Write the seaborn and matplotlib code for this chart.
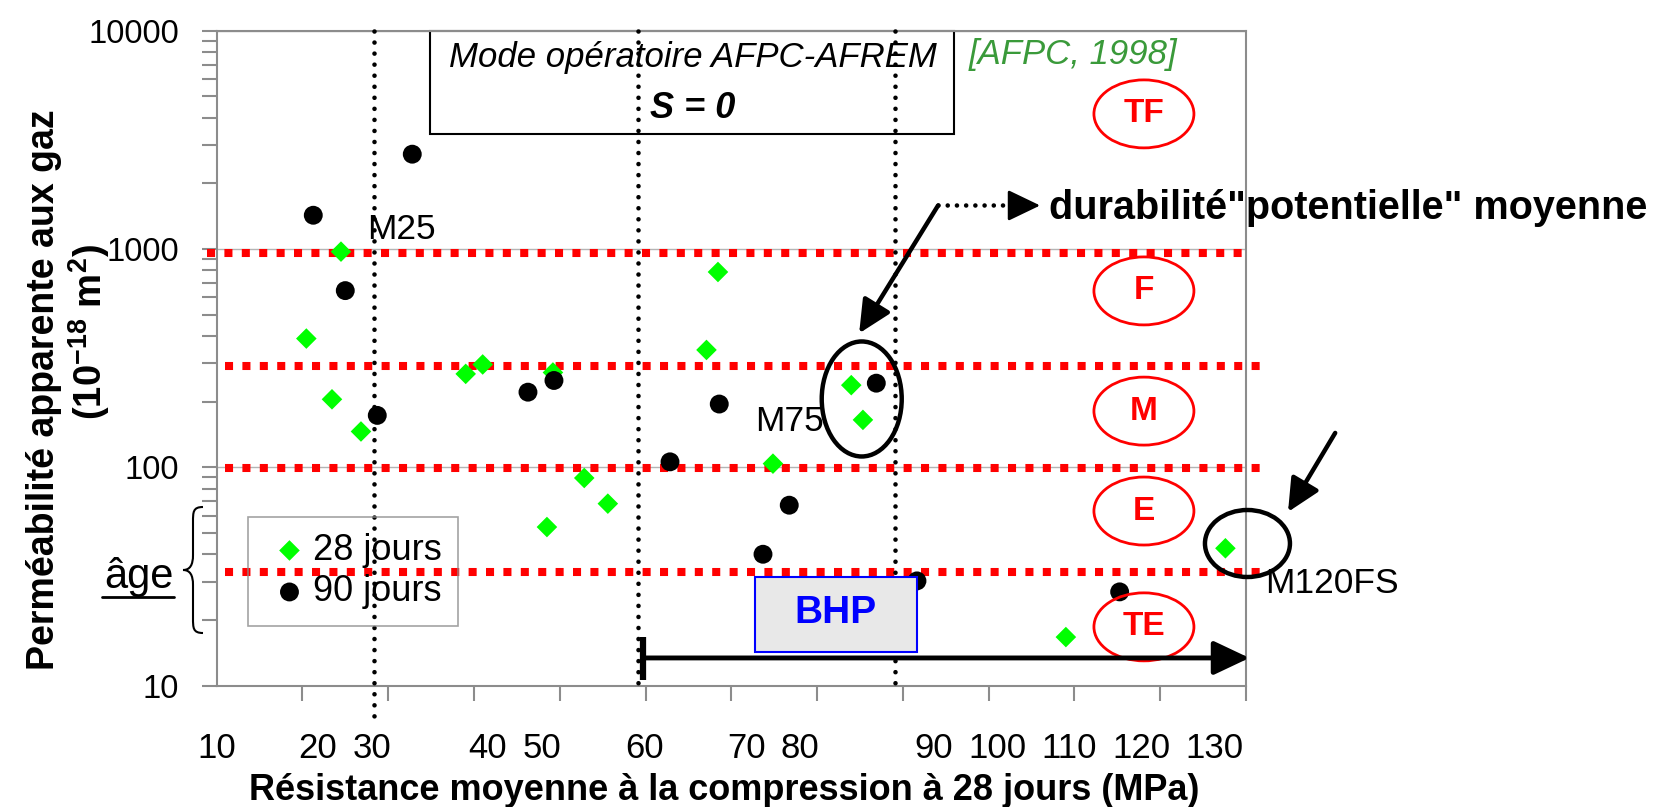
import numpy as np
import pandas as pd
import matplotlib
matplotlib.use('Agg')
import matplotlib.pyplot as plt
import seaborn as sns
from matplotlib.patches import Ellipse, Rectangle, PathPatch
from matplotlib.path import Path
from matplotlib.lines import Line2D
from matplotlib.ticker import NullFormatter
from matplotlib.transforms import ScaledTranslation

# values
fc_28j = [20.45, 24.49, 23.44, 26.82, 39.03, 41.01, 49.2, 48.5, 52.85, 55.6,
          67.1, 68.44, 74.85, 83.98, 85.34, 109.0, 127.6]
perm_28j = [389, 973, 205, 146, 268, 296, 272, 53.3, 89.4, 68.2,
            345, 785, 104, 238, 165, 16.7, 42.6]
fc_90j = [21.26, 24.99, 28.72, 32.8, 46.29, 49.32, 62.85, 68.59, 73.69, 76.75,
          86.9, 91.64, 115.27]
perm_90j = [1428, 645, 173, 2719, 221, 250, 106, 195, 40, 67.1,
            243, 30.2, 26.9]

# durability class limits and names
class_limits = [960, 291, 99, 33.1]
class_names = ['TF', 'F', 'M', 'E', 'TE']
class_centers = [4159, 643, 181, 63.1, 18.6]

# strength classes (vertical dotted lines)
strength_limits = [28.3, 59.1, 89.1]
strength_bottoms = [7.26, 9.55, 10]

x_labels = ['10', '20', '30', '40', '50', '60', '70', '80', '90', '100', '110', '120', '130']
x_label_pos = [10.0, 21.8, 28.1, 41.6, 47.9, 59.9, 71.8, 78.0, 93.6, 101.0, 109.4, 117.8, 126.3]

sns.set_theme(style='ticks')
plt.rcParams['font.family'] = ['Liberation Sans', 'DejaVu Sans']
plt.rcParams['text.color'] = 'black'
plt.rcParams['axes.labelcolor'] = 'black'
plt.rcParams['mathtext.fontset'] = 'custom'
plt.rcParams['mathtext.rm'] = 'Liberation Sans:bold'
plt.rcParams['mathtext.bf'] = 'Liberation Sans:bold'

W, H = 1653, 807
fig = plt.figure(figsize=(W / 100, H / 100), dpi=100)
ax = fig.add_axes([216.7 / W, 1 - 685.7 / H, (1246 - 216.7) / W, (685.7 - 30.7) / H])

grey = '#8c8c8c'

# scatter points
df28 = pd.DataFrame({'fc': fc_28j, 'perm': perm_28j})
df90 = pd.DataFrame({'fc': fc_90j, 'perm': perm_90j})
sns.scatterplot(data=df28, x='fc', y='perm', marker='D', color='#00ff00', s=110,
                edgecolor='none', label='28 jours', ax=ax, zorder=4)
sns.scatterplot(data=df90, x='fc', y='perm', marker='o', color='black', s=185,
                edgecolor='none', label='90 jours', ax=ax, zorder=4)

ax.set_yscale('log')
ax.set_xlim(10, 130)
ax.set_ylim(10, 10000)
ax.set_xlabel('')
ax.set_ylabel('')

# red class limits
for i, lim in enumerate(class_limits):
    x0, x1 = (8.9, 129.8) if i == 0 else (11, 131.7)
    ax.plot([x0, x1], [lim, lim], color='#ff0000', lw=5.8, dashes=(1, 1.16),
            dash_capstyle='butt', clip_on=False, zorder=2)

# vertical strength class lines
for xv, yb in zip(strength_limits, strength_bottoms):
    ax.plot([xv, xv], [10000, yb], color='black', lw=3.3, dashes=(0.01, 2.4),
            dash_capstyle='round', clip_on=False, zorder=3)

# ticks
ax.set_xticks(np.arange(10, 131, 10), minor=True)
ax.set_xticks(x_label_pos, labels=x_labels)
ax.tick_params(axis='x', which='major', length=0, pad=33, labelsize=25, labelcolor='black')
ax.tick_params(axis='x', which='minor', length=11, width=1.5, color=grey, direction='out')
ax.set_yticks([10, 100, 1000, 10000], labels=['10', '100', '1000', '10000'])
ax.yaxis.set_minor_formatter(NullFormatter())
ax.tick_params(axis='y', which='both', length=11, width=1.5, color=grey, direction='out',
               pad=16, labelsize=23.5, labelcolor='black')
ax.yaxis.grid(True, which='major', color='#b4b4b4', lw=1)
ax.set_axisbelow(True)
for s in ax.spines.values():
    s.set_color(grey)
    s.set_linewidth(1.5)


def oval(x, y, w, h, color, lw):
    e = Ellipse((0, 0), w, h, fill=False, edgecolor=color, lw=lw, clip_on=False, zorder=5,
                transform=fig.dpi_scale_trans + ScaledTranslation(x, y, ax.transData))
    ax.add_artist(e)


for name, yc in zip(class_names, class_centers):
    oval(118.1, yc, 1.0, 0.68, '#ff0000', 2)
    ax.text(118.1, yc, name, color='#ff0000', fontsize=24, fontweight='bold',
            ha='center', va='center', zorder=7)

# highlighted groups
oval(85.2, 205.7, 0.80, 1.15, 'black', 3.2)
oval(130.17, 44.8, 0.85, 0.67, 'black', 3.2)
ax.text(27.5, 1223, 'M25', fontsize=25.5, ha='left', va='center', zorder=7)
ax.text(72.76, 162, 'M75', fontsize=25.5, ha='left', va='center', zorder=7)
ax.text(132.2, 29.5, 'M120FS', fontsize=25.5, ha='left', va='center', zorder=7)

head = '-|>,head_length=0.5,head_width=0.24'
ax.annotate('', xy=(84.9, 411), xytext=(94.1, 1583), annotation_clip=False,
            arrowprops=dict(arrowstyle=head, color='black', lw=3.2, shrinkA=0, shrinkB=0,
                            mutation_scale=40))
ax.annotate('', xy=(134.9, 62.5), xytext=(140.4, 143.8), annotation_clip=False,
            arrowprops=dict(arrowstyle=head, color='black', lw=3.2, shrinkA=0, shrinkB=0,
                            mutation_scale=40))
ax.plot([94.1, 103.0], [1583, 1583], color='black', lw=3.3, dashes=(0.01, 2.0),
        dash_capstyle='round', clip_on=False, zorder=6)
ax.annotate('', xy=(106.0, 1583), xytext=(102.5, 1583), annotation_clip=False,
            arrowprops=dict(arrowstyle=head, color='black', lw=2, shrinkA=0, shrinkB=0,
                            mutation_scale=40))
ax.text(107.0, 1549, 'durabilité"potentielle" moyenne', fontsize=28.5, fontweight='bold',
        ha='left', va='center', zorder=7)

# mode operatoire box
ax.add_patch(Rectangle((34.87, 3366), 95.95 - 34.87, 10000 - 3366, facecolor='white',
                       edgecolor='black', lw=1.5, zorder=1.5, clip_on=False))
ax.text(65.5, 7500, 'Mode opératoire AFPC-AFREM', fontsize=25, style='italic',
        ha='center', va='center', zorder=7)
ax.text(65.5, 4404, 'S = 0', fontsize=26, style='italic', fontweight='bold',
        ha='center', va='center', zorder=7)
ax.text(109.8, 7746, '[AFPC, 1998]', fontsize=25, style='italic', color='#3a9a3a',
        ha='center', va='center', zorder=7)

# BHP
ax.add_patch(Rectangle((72.8, 14.27), 91.6 - 72.8, 31.6 - 14.27, facecolor='#e8e8e8',
                       edgecolor='#0000ff', lw=1.5, zorder=6))
ax.text(82.1, 21.5, 'BHP', fontsize=28, fontweight='bold', color='#0000ff',
        ha='center', va='center', zorder=7)
ax.plot([59.7, 59.7], [10.6, 16.7], color='black', lw=4.5, solid_capstyle='butt',
        clip_on=False, zorder=6)
ax.annotate('', xy=(130.4, 13.4), xytext=(59.7, 13.4), annotation_clip=False,
            arrowprops=dict(arrowstyle='-|>,head_length=0.55,head_width=0.26', color='black',
                            lw=3.5, shrinkA=0, shrinkB=0, mutation_scale=40), zorder=6)

# legend
leg = ax.legend(loc='upper left', bbox_to_anchor=(248.3 / W, 1 - 516.7 / H),
                bbox_transform=fig.transFigure, frameon=True, fancybox=False,
                edgecolor=grey, facecolor='none', fontsize=26, borderpad=0.45,
                handlelength=1.38, handletextpad=-0.05, labelspacing=0.18, borderaxespad=0)
leg.get_frame().set_linewidth(1.2)

# age brace
brace_px = [(203, 507), (193, 507), (193, 512), (193, 522), (193, 555),
            (193, 565), (190, 570), (183, 570), (190, 570), (193, 575), (193, 585),
            (193, 618), (193, 628), (193, 633), (203, 633)]
codes = [Path.MOVETO] + [Path.CURVE4] * 3 + [Path.LINETO] + [Path.CURVE4] * 6 + \
        [Path.LINETO] + [Path.CURVE4] * 3
verts = [(px / W, 1 - py / H) for px, py in brace_px]
fig.add_artist(PathPatch(Path(verts, codes), transform=fig.transFigure, fill=False,
                         lw=1.5, edgecolor='black'))
fig.text(139 / W, 1 - 577 / H, 'âge', fontsize=30, ha='center', va='center')
fig.add_artist(Line2D([102 / W, 174 / W], [1 - 597 / H, 1 - 597 / H], color='black', lw=2))

# axis titles
fig.text(44 / W, 1 - 390 / H, 'Perméabilité apparente aux gaz', rotation=90,
         fontsize=27, fontweight='bold', ha='center', va='center')
fig.text(89 / W, 1 - 332 / H, r'(10$^{-18}$ m$^{2}$)', rotation=90,
         fontsize=27.5, fontweight='bold', ha='center', va='center')
fig.text(724 / W, 1 - 791 / H, 'Résistance moyenne à la compression à 28 jours (MPa)',
         fontsize=26, fontweight='bold', ha='center', va='center')

fig.savefig('out.png', dpi=100)
